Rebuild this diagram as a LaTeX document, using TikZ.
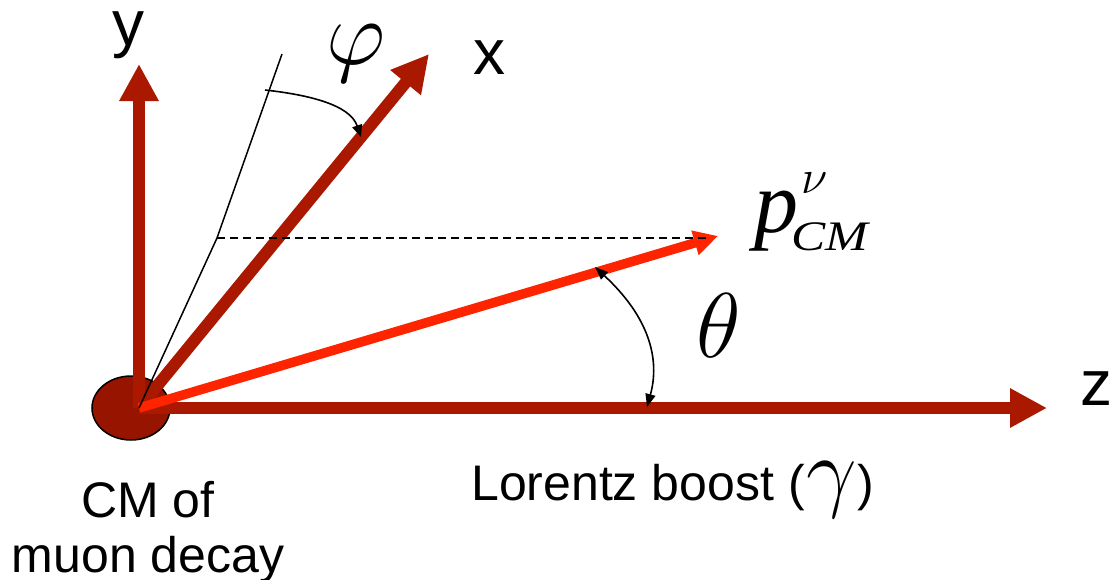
\RequirePackage{fix-cm}
\documentclass[tikz,border=0pt]{standalone}
\usepackage{fontspec}
\newfontfamily\arialf{Liberation Sans}
\newfontfamily\timesf{Liberation Serif}
\newfontfamily\timeswide{Liberation Serif}[FakeStretch=1.22]
\usetikzlibrary{arrows.meta,shapes.geometric}
\definecolor{axisred}{RGB}{170,24,0}
\definecolor{dotred}{RGB}{150,20,0}
\definecolor{pred}{RGB}{255,36,0}
\begin{document}
\begin{tikzpicture}[x=1pt,y=-1pt,
  axisarrow/.style={draw=axisred, line width=12pt, -{Triangle[length=37pt,width=37pt]}},
  parrow/.style={draw=pred, line width=9.5pt, -{Triangle[length=24pt,width=24pt]}},
  thinline/.style={draw=black, line width=1.5pt},
  dashline/.style={draw=black, line width=1.5pt, dash pattern=on 8pt off 5pt},
  anglearrow/.style={draw=black, line width=1.6pt},
  lab/.style={inner sep=0pt, anchor=base},
  axislab/.style={lab, font=\arialf\fontsize{64}{64}\selectfont},
  textlab/.style={lab, font=\arialf\fontsize{50}{50}\selectfont}]
\useasboundingbox (0,0) rectangle (1109,579);
% coordinates
\coordinate (O) at (139,408);
\coordinate (ytip) at (139,64);
\coordinate (xtip) at (429,54);
\coordinate (ztip) at (1047,408);
\coordinate (ptip) at (718,236);
\coordinate (K) at (217,238);
\coordinate (T) at (282,54);
\coordinate (dashend) at (707,238);
\coordinate (phiS) at (265,90);
\coordinate (phiE) at (361,137);
\coordinate (thS) at (595,267);
\coordinate (thE) at (647,407);
% centre-of-mass blob
\node[ellipse, draw=black, line width=1.5pt, fill=dotred, minimum width=78pt, minimum height=64pt, inner sep=0pt] (cm) at (131,408) {};
% axes
\draw[axisarrow] (O) -- (ztip);
\draw[axisarrow] (O) -- (ytip);
\draw[axisarrow] (O) -- (xtip);
% momentum vector
\draw[parrow] (O) -- (ptip);
% thin construction lines
\draw[thinline] (O) -- (K) -- (T);
\draw[dashline] (K) -- (dashend);
% angle arrows
\draw[anglearrow, -{Triangle[length=12pt,width=10pt]}] (phiS) .. controls (310,95) and (350,105) .. (phiE);
\draw[anglearrow, {Triangle[length=13pt,width=10pt]}-{Triangle[length=13pt,width=10pt]}] (thS) .. controls (650,318) and (660,360) .. (thE);
% labels
\node[axislab] (ylab) at (128,45) {y};
\node[axislab] (xlab) at (489,74) {x};
\node[axislab, anchor=base west] (zlab) at (1080,405) {z};
\node[lab, font=\fontsize{92}{92}\selectfont] (philab) at (356,64) {$\varphi$};
\node[lab, font=\fontsize{92}{92}\selectfont] (thlab) at (719,357) {$\theta$};
\node[lab, anchor=base west, font=\timesf\itshape\fontsize{88}{88}\selectfont] (plab) at (754,232) {p};
\node[lab, anchor=base west, font=\fontsize{48}{48}\selectfont] (nulab) at (801,193) {$\nu$};
\node[lab, anchor=base west, font=\timeswide\itshape\fontsize{42}{42}\selectfont] (cmsub) at (791,250) {CM};
\node[textlab] (cm1) at (148,517) {CM of};
\node[textlab] (cm2) at (148,572) {muon decay};
\node[textlab, anchor=base west] (boost) at (471,500) {Lorentz boost (\kern2pt{\fontsize{90}{90}\selectfont$\gamma$})};
\end{tikzpicture}
\end{document}
